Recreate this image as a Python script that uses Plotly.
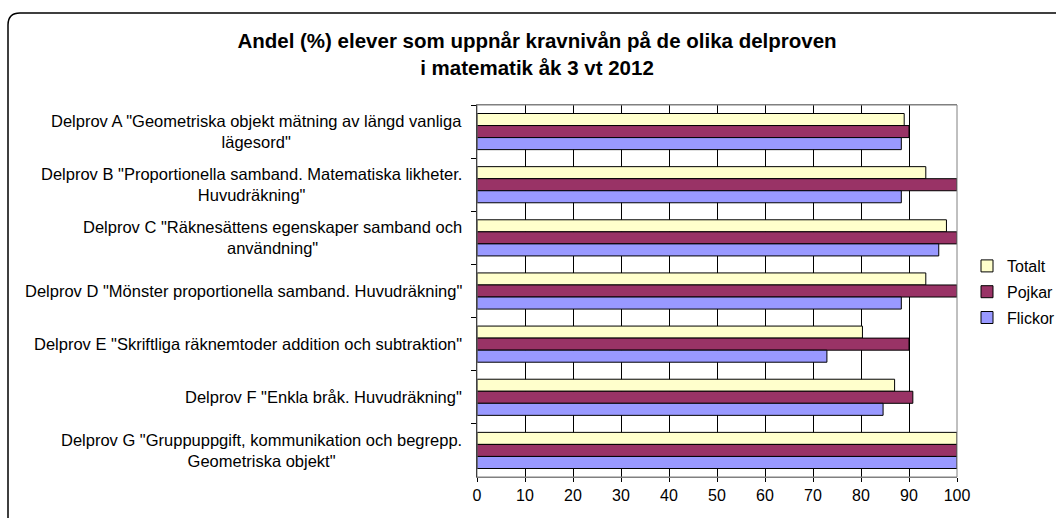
import plotly.graph_objects as go

categories = [
    'Delprov A "Geometriska objekt mätning av längd vanliga<br>lägesord"',
    'Delprov B "Proportionella samband. Matematiska likheter.<br>Huvudräkning"',
    'Delprov C "Räknesättens egenskaper samband och<br>användning"',
    'Delprov D "Mönster proportionella samband. Huvudräkning"',
    'Delprov E "Skriftliga räknemtoder addition och subtraktion"',
    'Delprov F "Enkla bråk. Huvudräkning"',
    'Delprov G "Gruppuppgift, kommunikation och begrepp.<br>Geometriska objekt"',
]
totalt = [89.0, 93.5, 97.8, 93.5, 80.3, 87.0, 100]
pojkar = [90.0, 100, 100, 100, 90.0, 90.8, 100]
flickor = [88.4, 88.4, 96.2, 88.4, 72.9, 84.6, 100]
x_ticks = [0, 10, 20, 30, 40, 50, 60, 70, 80, 90, 100]
title_text = "Andel (%) elever som uppnår kravnivån på de olika delproven<br>i matematik åk 3 vt 2012"

FONT = "Liberation Sans, Arial, sans-serif"
W, H = 1056, 518
L, R, T, B = 477, 99, 105, 41
pw, ph = W - L - R, H - T - B

def px(xp):
    return (xp - L) / pw

def py(yp):
    return (H - B - yp) / ph

fig = go.Figure()
series = [("Totalt", totalt, "#FFFFCC"), ("Pojkar", pojkar, "#993366"), ("Flickor", flickor, "#9999FF")]
for name, vals, col in series:
    fig.add_trace(go.Bar(
        y=categories, x=vals, name=name, orientation="h",
        marker=dict(color=col, line=dict(color="#000000", width=1)),
        legendgroup=name,
    ))

# label annotations (center-aligned multi-line like the original)
for c in categories:
    fig.add_annotation(
        x=px(464), xref="paper", y=c, yref="y", text=c, showarrow=False,
        xanchor="right", yanchor="middle", align="center",
        font=dict(family=FONT, size=16.5, color="#000000"),
    )

# rounded border around chart area
x0, x1 = px(8), px(1070)
y0, y1 = py(13), py(530)
rx, ry = 12 / pw, 12 / ph
path = (f"M {x0+rx},{y0} L {x1},{y0} L {x1},{y1} L {x0},{y1} L {x0},{y0-ry} "
        f"Q {x0},{y0} {x0+rx},{y0} Z")
fig.add_shape(type="path", path=path, xref="paper", yref="paper",
              line=dict(color="#000000", width=1.5), fillcolor="rgba(0,0,0,0)", layer="below")

fig.update_layout(
    width=W, height=H,
    margin=dict(l=L, r=R, t=T, b=B, autoexpand=False),
    paper_bgcolor="#FFFFFF", plot_bgcolor="#FFFFFF",
    barmode="group", bargap=0.32, bargroupgap=0,
    title=dict(text=title_text, x=537 / W, xanchor="center", xref="container",
               y=1 - 48 / H, yanchor="top",
               font=dict(family=FONT, size=20.5, color="#000000", weight="bold")),
    legend=dict(x=px(967), y=py(249), xanchor="left", yanchor="top",
                font=dict(family=FONT, size=16, color="#000000"),
                traceorder="grouped", tracegroupgap=2, itemwidth=30,
                bgcolor="rgba(0,0,0,0)"),
    showlegend=True,
    font=dict(family=FONT, size=16, color="#000000"),
)
fig.update_xaxes(
    range=[0, 100], tickvals=x_ticks, ticktext=[str(v) for v in x_ticks],
    showgrid=True, gridcolor="#000000", gridwidth=1,
    showline=True, linecolor="#808080", linewidth=1, mirror=True,
    ticks="outside", ticklen=4, tickcolor="#000000",
    tickfont=dict(family=FONT, size=16, color="#000000"),
    zeroline=False, fixedrange=True,
)
fig.update_yaxes(
    categoryorder="array", categoryarray=categories, autorange="reversed",
    showticklabels=False, ticks="outside", tickson="boundaries", ticklen=5, tickcolor="#000000",
    showline=True, linecolor="#000000", linewidth=1, mirror=False,
    showgrid=False, fixedrange=True,
)
fig.add_shape(type="rect", xref="paper", yref="paper", x0=0, x1=1, y0=0, y1=1,
              line=dict(color="#808080", width=1), fillcolor="rgba(0,0,0,0)", layer="above")

fig.write_html("out.html", config={"displayModeBar": False},
               post_script="document.body.style.margin='0';")
